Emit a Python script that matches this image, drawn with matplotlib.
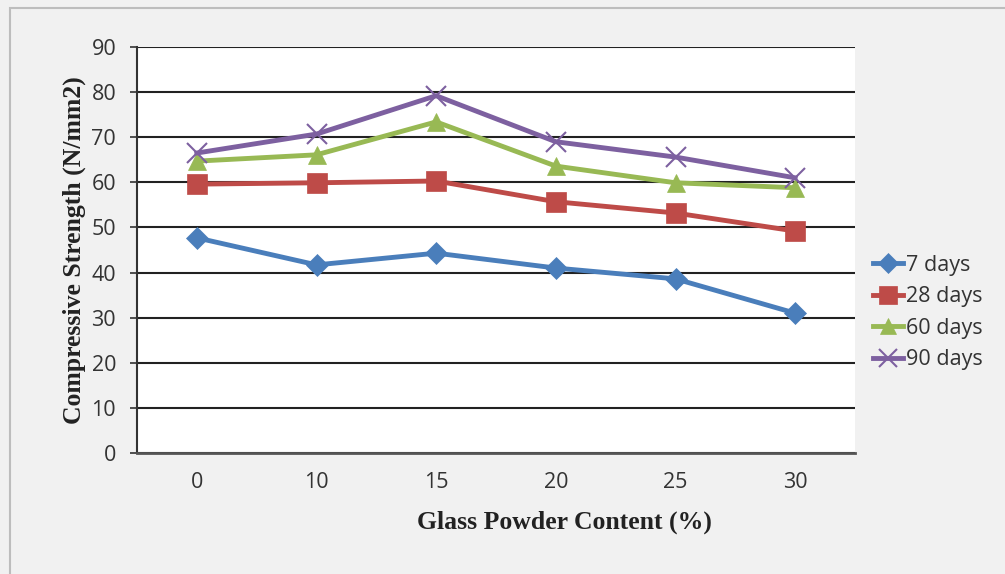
import matplotlib
import matplotlib.pyplot as plt
from matplotlib.patches import Rectangle

matplotlib.use('Agg')

glass_content = ['0', '10', '15', '20', '25', '30']
days_7 = [47.7, 41.7, 44.3, 41.0, 38.6, 31.0]
days_28 = [59.6, 59.9, 60.3, 55.7, 53.2, 49.2]
days_60 = [64.7, 66.1, 73.4, 63.6, 59.9, 58.8]
days_90 = [66.5, 70.7, 79.2, 69.0, 65.6, 61.0]
series_labels = ['7 days', '28 days', '60 days', '90 days']

BG = '#f1f1f1'
W, H = 1005, 574

fig = plt.figure(figsize=(W / 100, H / 100), dpi=100, facecolor=BG)
# outer chart border
fig.patches.append(Rectangle((10 / W, -0.05), 1.1, 1 - 8 / H + 0.05, transform=fig.transFigure,
                             fill=False, edgecolor='#bdbdbd', linewidth=1.5))

ax = fig.add_axes([137 / W, 1 - 453 / H, (855 - 137) / W, (453 - 47) / H])
ax.set_facecolor('white')

x = list(range(len(glass_content)))
styles = [
    (days_7, '#4a7ebb', 'D', 11),
    (days_28, '#be4b48', 's', 14),
    (days_60, '#98b954', '^', 13),
    (days_90, '#7d60a0', 'x', 14),
]
for (vals, color, marker, ms), label in zip(styles, series_labels):
    ax.plot(x, vals, color=color, linewidth=3.5, marker=marker, markersize=ms,
            markeredgewidth=1.5 if marker == 'x' else 0.5, markeredgecolor=color,
            label=label, zorder=3)

ax.set_xlim(-0.5, len(glass_content) - 0.5)
ax.set_ylim(0, 90)
ax.set_yticks(range(0, 91, 10))
ax.set_xticks(x)
ax.set_xticklabels(glass_content)
ax.grid(axis='y', color='#222222', linewidth=1.5)
ax.set_axisbelow(True)

for side in ['top', 'right']:
    ax.spines[side].set_visible(False)
ax.spines['left'].set_color('#333333')
ax.spines['bottom'].set_color('#555555')
ax.spines['left'].set_linewidth(1.5)
ax.spines['bottom'].set_linewidth(2)

ax.tick_params(axis='x', length=0, pad=14, labelsize=15.5, colors='#333333')
ax.tick_params(axis='y', length=5, width=1.2, pad=10, labelsize=15.5, colors='#333333')
for lbl in ax.get_xticklabels() + ax.get_yticklabels():
    lbl.set_fontfamily('Open Sans')

ax.set_xlabel('Glass Powder Content (%)', fontfamily='Liberation Serif', fontweight='bold',
              fontsize=18.5, color='#222222')
ax.xaxis.set_label_coords((564 - 137) / (855 - 137), -(522 - 453) / (453 - 47), transform=ax.transAxes)
ax.xaxis.label.set_va('center')
ax.set_ylabel('Compressive Strength (N/mm2)', fontfamily='Liberation Serif', fontweight='bold',
              fontsize=18.5, color='#222222', labelpad=4)

leg = fig.legend(loc='upper left', bbox_to_anchor=(864 / W, 1 - 246 / H), frameon=False,
                 prop={'family': 'Open Sans', 'size': 15.5}, handlelength=1.4, handletextpad=0.15,
                 labelspacing=0.49, borderaxespad=0, markerscale=0.9)
for t in leg.get_texts():
    t.set_color('#333333')

fig.savefig('out.png', dpi=100, facecolor=BG)
